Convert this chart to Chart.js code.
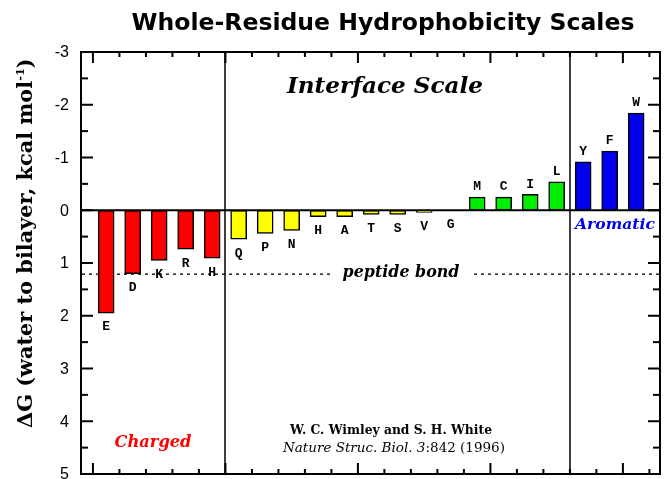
<!DOCTYPE html>
<html>
<head>
<meta charset="utf-8">
<script src="https://cdn.jsdelivr.net/npm/chart.js@4/dist/chart.umd.min.js"></script>
<style>
  html, body { margin: 0; padding: 0; background: #fff; }
  #c { display: block; }
</style>
</head>
<body>
<canvas id="c" width="665" height="479"></canvas>
<script>
// ---- data ----
const categories = ['E','D','K','R','H','Q','P','N','H','A','T','S','V','G','M','C','I','L','Y','F','W'];
const deltaG = [1.95, 1.20, 0.95, 0.74, 0.91, 0.55, 0.44, 0.38, 0.12, 0.12, 0.08, 0.08, 0.04, 0.00, -0.25, -0.25, -0.30, -0.54, -0.92, -1.12, -1.84];
const groups = ['charged','charged','charged','charged','charged',
                'polar','polar','polar','polar','polar','polar','polar','polar','polar',
                'hydrophobic','hydrophobic','hydrophobic','hydrophobic',
                'aromatic','aromatic','aromatic'];
const yTickValues = [-3, -2, -1, 0, 1, 2, 3, 4, 5];
const peptideBondValue = 1.2;
const groupDividers = [5.5, 18.5];

const groupColors = { charged: '#ff0000', polar: '#ffff00', hydrophobic: '#00ee00', aromatic: '#0000ee' };

const points = deltaG.map((v, i) => ({ x: i + 1, y: v }));

function fitFont(ctx, text, style, family, target) {
  ctx.font = style + ' 20px ' + family;
  const w = ctx.measureText(text).width;
  return style + ' ' + (20 * target / w).toFixed(2) + 'px ' + family;
}

const decor = {
  id: 'decor',
  beforeDatasetsDraw(chart) {
    const { ctx, chartArea: a, scales: { x, y } } = chart;
    ctx.save();
    ctx.fillStyle = '#000';
    groupDividers.forEach(d => {
      const px = Math.round(x.getPixelForValue(d));
      ctx.fillRect(px - 0.75, a.top, 1.5, a.bottom - a.top);
    });
    // peptide bond dashed line with gap for text
    const py = Math.round(y.getPixelForValue(peptideBondValue));
    const label = 'peptide bond';
    const tx = 401;
    ctx.font = fitFont(ctx, label, 'bold italic', '"DejaVu Serif"', 117);
    const tw = ctx.measureText(label).width;
    const gapL = tx - tw / 2 - 9, gapR = tx + tw / 2 + 8;
    for (let px = a.left + 1; px < a.right - 1; px += 7) {
      if (px + 3 > gapL && px < gapR) continue;
      ctx.fillRect(px, py - 0.5, 3, 1.3);
    }
    ctx.textAlign = 'center'; ctx.textBaseline = 'middle';
    ctx.fillText(label, tx, py - 1);
    ctx.restore();
  },
  afterDatasetsDraw(chart) {
    const { ctx, chartArea: a, scales: { x, y } } = chart;
    ctx.save();
    ctx.fillStyle = '#000';
    // zero line
    const y0 = y.getPixelForValue(0);
    ctx.fillRect(a.left, y0 - 1, a.right - a.left, 2);

    // bar letters
    const meta = chart.getDatasetMeta(0);
    ctx.font = 'bold 13px "Liberation Mono"';
    ctx.textAlign = 'center'; ctx.textBaseline = 'middle';
    meta.data.forEach((bar, i) => {
      const v = deltaG[i];
      const ly = v >= 0 ? Math.max(bar.y, y0) + 14 : bar.y - 10;
      ctx.fillText(categories[i], bar.x, ly);
    });

    // frame
    const L = a.left, R = a.right, T = a.top, B = a.bottom;
    ctx.fillRect(L - 1, T - 1, R - L + 2, 2);
    ctx.fillRect(L - 1, B - 1, R - L + 2, 2);
    ctx.fillRect(L - 1, T - 1, 2, B - T + 2);
    ctx.fillRect(R - 1, T - 1, 2, B - T + 2);

    // y ticks (left & right, inward), major at integers, minor at halves
    const nHalf = Math.round((5 - (-3)) * 2);
    for (let k = 0; k <= nHalf; k++) {
      const v = -3 + k * 0.5;
      const py = y.getPixelForValue(v);
      const len = (k % 2 === 0) ? 12 : 7;
      ctx.fillRect(L, py - 1, len, 2);
      ctx.fillRect(R - len, py - 1, len, 2);
    }
    // x ticks (top & bottom, inward) between bars
    for (let k = 0; k <= categories.length; k++) {
      const px = x.getPixelForValue(k + 0.5);
      if (px < L || px > R) continue;
      const len = (k % 5 === 0) ? 11 : 5;
      ctx.fillRect(px - 1, T, 2, len);
      ctx.fillRect(px - 1, B - len, 2, len);
    }

    // y tick labels
    ctx.font = '16px "Liberation Sans"';
    ctx.textAlign = 'right'; ctx.textBaseline = 'middle';
    yTickValues.forEach(v => {
      ctx.fillText(String(v), L - 12, y.getPixelForValue(v) + 1);
    });

    // y axis title (rotated)
    ctx.save();
    ctx.translate(27, 243);
    ctx.rotate(-Math.PI / 2);
    const main = '\u0394G (water to bilayer, kcal mol';
    const sup = '-1';
    const family = '"DejaVu Serif"';
    ctx.font = 'bold 20px ' + family;
    const base = ctx.measureText(main + ')').width + ctx.measureText(sup).width * 0.55;
    const fs = 20 * 370 / base;
    ctx.font = 'bold ' + fs + 'px ' + family;
    const wMain = ctx.measureText(main).width;
    ctx.font = 'bold ' + (fs * 0.55) + 'px ' + family;
    const wSup = ctx.measureText(sup).width;
    let sx = -185;
    ctx.textAlign = 'left'; ctx.textBaseline = 'middle';
    ctx.font = 'bold ' + fs + 'px ' + family;
    ctx.fillText(main, sx, 0);
    ctx.font = 'bold ' + (fs * 0.55) + 'px ' + family;
    ctx.fillText(sup, sx + wMain, -6);
    ctx.font = 'bold ' + fs + 'px ' + family;
    ctx.fillText(')', sx + wMain + wSup, 0);
    ctx.restore();

    // chart title
    const title = 'Whole-Residue Hydrophobicity Scales';
    ctx.font = fitFont(ctx, title, 'bold', '"DejaVu Sans"', 503);
    ctx.textAlign = 'center'; ctx.textBaseline = 'alphabetic';
    ctx.fillText(title, 383, 30);

    // annotations
    ctx.textBaseline = 'middle';
    ctx.font = fitFont(ctx, 'Interface Scale', 'bold italic', '"DejaVu Serif"', 196);
    ctx.fillText('Interface Scale', 385, 87);
    ctx.fillStyle = '#ff0000';
    ctx.font = fitFont(ctx, 'Charged', 'bold italic', '"DejaVu Serif"', 77);
    ctx.fillText('Charged', 153, 443);
    ctx.fillStyle = '#0000ee';
    ctx.font = fitFont(ctx, 'Aromatic', 'bold italic', '"DejaVu Serif"', 80);
    ctx.fillText('Aromatic', 615, 225);

    // citation
    ctx.fillStyle = '#000';
    const c1 = 'W. C. Wimley and S. H. White';
    ctx.font = fitFont(ctx, c1, 'bold', '"DejaVu Serif"', 202);
    ctx.fillText(c1, 391, 431);
    const p1 = 'Nature Struc. Biol. 3', p2 = ':842 (1996)';
    ctx.font = 'italic 20px "DejaVu Serif"';
    let w1 = ctx.measureText(p1).width;
    ctx.font = '20px "DejaVu Serif"';
    let w2 = ctx.measureText(p2).width;
    const s2 = 20 * 222 / (w1 + w2);
    w1 *= s2 / 20; w2 *= s2 / 20;
    const cx = 394 - (w1 + w2) / 2;
    ctx.textAlign = 'left';
    ctx.font = 'italic ' + s2 + 'px "DejaVu Serif"';
    ctx.fillText(p1, cx, 448);
    ctx.font = s2 + 'px "DejaVu Serif"';
    ctx.fillText(p2, cx + w1, 448);

    ctx.restore();
  }
};

new Chart(document.getElementById('c'), {
  type: 'bar',
  data: {
    datasets: [{
      data: points,
      backgroundColor: groups.map(g => groupColors[g]),
      borderColor: '#000',
      borderWidth: 1.5,
      borderSkipped: false,
      barThickness: 16
    }]
  },
  options: {
    responsive: false,
    devicePixelRatio: 1,
    animation: false,
    layout: { padding: { left: 81, top: 52, right: 5, bottom: 5 } },
    plugins: { legend: { display: false }, tooltip: { enabled: false }, title: { display: false } },
    scales: {
      x: { type: 'linear', min: 0.05, max: 21.9, offset: false, display: false },
      y: { min: -3, max: 5, reverse: true, display: false }
    }
  },
  plugins: [decor]
});
</script>
</body>
</html>
